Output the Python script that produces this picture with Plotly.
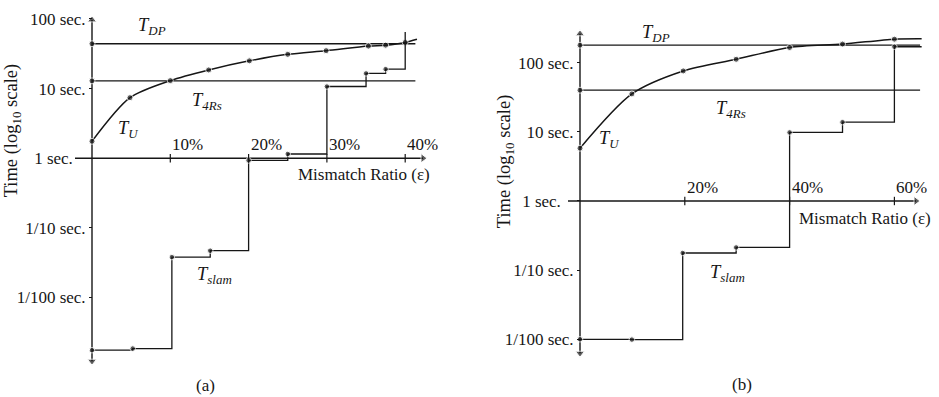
import plotly.graph_objects as go

# ---------------- data ----------------
# panel (a)
a_tu_x = [0, 4.85, 10, 14.9, 20.1, 25, 29.9, 35.3, 37.5, 40, 41.5]
a_tu_y = [1.75, 7.4, 13, 18.5, 25, 31, 35, 40.7, 42, 46, 51]
a_dp = 44
a_4rs = 12.9
a_line_end = 41.3
a_slam_x = [0, 5.2, 10.2, 15.1, 20, 25, 30, 35, 37.5, 40]
a_slam_y = [0.00175, 0.00185, 0.038, 0.047, 0.93, 1.15, 10.7, 16.5, 19, 65]
a_xticks = [10, 20, 30, 40]
a_xlabels = ["10%", "20%", "30%", "40%"]

# panel (b)
b_tu_x = [0, 9.9, 19.7, 29.8, 40, 50.1, 60, 65.2]
b_tu_y = [5.8, 35.4, 76, 112, 166, 186, 219, 222]
b_dp = 179
b_4rs = 40
b_line_end = 64.9
b_slam_x = [0, 9.9, 19.6, 29.8, 40, 50.1, 60, 65.2]
b_slam_y = [0.01, 0.0099, 0.177, 0.213, 9.8, 13.8, 170, 170]
b_xticks = [20, 40, 60]
b_xlabels = ["20%", "40%", "60%"]

ytick_vals = [0.01, 0.1, 1, 10, 100]
ytick_text = ["1/100 sec.", "1/10 sec.", "1 sec.&nbsp;&nbsp;&nbsp;", "10 sec.", "100 sec."]

W, H = 939, 397
INK = "#161616"
FONT = "Liberation Serif"
FS = 17

fig = go.Figure()

# ---------------- geometry (pixels in the 939x397 page) ----------------
A = dict(x0px=92, pp=7.83, y1px=157, pd=70, left=70, right=430,
         ytop=14, ybot=365, xstart=75, xend=427)
B = dict(x0px=580, pp=5.24, y1px=200, pd=69.5, left=558, right=925,
         ytop=28, ybot=357, xstart=568, xend=920)
top_px, bot_px = 10, 370


def xdata(g, px):
    return (px - g["x0px"]) / g["pp"]


def ydata(g, py):
    return 10 ** ((g["y1px"] - py) / g["pd"])


def add_panel(g, xr, yr, tu_x, tu_y, dp, r4, lend, sl_x, sl_y, xt):
    common = dict(xaxis=xr, yaxis=yr, showlegend=False, hoverinfo="skip")
    # axis lines with arrow heads
    fig.add_trace(go.Scatter(x=[0, 0, 0], y=[ydata(g, g["ybot"] - 4), 1, ydata(g, g["ytop"] + 4)],
                             mode="lines+markers", line=dict(color=INK, width=1.4),
                             marker=dict(symbol=["triangle-down", "circle", "triangle-up"],
                                         size=[8, 0, 8], color=INK),
                             cliponaxis=False, **common))
    fig.add_trace(go.Scatter(x=[xdata(g, g["xstart"]), xdata(g, g["xend"] - 4)], y=[1, 1],
                             mode="lines+markers", line=dict(color=INK, width=1.4),
                             marker=dict(symbol=["circle", "triangle-right"], size=[0, 8], color=INK),
                             cliponaxis=False, **common))
    # horizontal reference lines with dot at left end
    for val in (dp, r4):
        fig.add_trace(go.Scatter(x=[0, lend], y=[val, val], mode="lines+markers",
                                 line=dict(color=INK, width=1.3),
                                 marker=dict(size=[6, 0], color=INK),
                                 cliponaxis=False, **common))
    # T_U curve
    sizes = [6] * (len(tu_x) - 1) + [0]
    fig.add_trace(go.Scatter(x=tu_x, y=tu_y, mode="lines+markers",
                             line=dict(color=INK, width=1.5, shape="spline", smoothing=0.8),
                             marker=dict(size=sizes, color=INK),
                             cliponaxis=False, **common))
    # T_slam step
    sizes = [5.5] * (len(sl_x) - 1) + [0]
    fig.add_trace(go.Scatter(x=sl_x, y=sl_y, mode="lines+markers",
                             line=dict(color=INK, width=1.3, shape="hv"),
                             marker=dict(size=sizes, color=INK),
                             cliponaxis=False, **common))
    # x tick marks on the x axis line (at 1 sec.)
    fig.add_trace(go.Scatter(x=xt, y=[1] * len(xt), mode="markers",
                             marker=dict(symbol="line-ns", size=6, color=INK,
                                         line=dict(width=1.2, color=INK)),
                             cliponaxis=False, **common))


add_panel(A, "x", "y", a_tu_x, a_tu_y, a_dp, a_4rs, a_line_end, a_slam_x, a_slam_y, a_xticks)
add_panel(B, "x2", "y2", b_tu_x, b_tu_y, b_dp, b_4rs, b_line_end, b_slam_x, b_slam_y, b_xticks)

yaxis_common = dict(type="log", showgrid=False, zeroline=False, showline=False,
                    tickvals=ytick_vals, ticktext=ytick_text, ticks="outside",
                    ticklen=3, tickwidth=1.2, tickcolor=INK, anchor="free",
                    tickfont=dict(family=FONT, size=FS, color=INK))


def xaxis_of(g):
    return dict(domain=[g["left"] / W, g["right"] / W],
                range=[xdata(g, g["left"]), xdata(g, g["right"])], visible=False)


def yaxis_of(g):
    return dict(domain=[1 - bot_px / H, 1 - top_px / H],
                range=[-(bot_px - g["y1px"]) / g["pd"], (g["y1px"] - top_px) / g["pd"]],
                position=g["x0px"] / W, **yaxis_common)


fig.update_layout(
    width=W, height=H, margin=dict(l=0, r=0, t=0, b=0),
    paper_bgcolor="white", plot_bgcolor="white",
    xaxis=xaxis_of(A), xaxis2=xaxis_of(B),
    yaxis=yaxis_of(A), yaxis2=yaxis_of(B),
)

ann = []


def label(xr, yr, x, ly, text, xanchor="center", yanchor="middle", yshift=0, size=FS):
    ann.append(dict(xref=xr, yref=yr, x=x, y=ly, text=text, showarrow=False,
                    xanchor=xanchor, yanchor=yanchor, yshift=yshift,
                    font=dict(family=FONT, size=size, color=INK)))


# series labels (y in log10 units, as plotly annotations need on log axes)
LS = 18.5
label("x", "y", 7.7, 1.89, "<i>T<sub>DP</sub></i>", size=LS)
label("x", "y", 14.7, 0.81, "<i>T<sub>4Rs</sub></i>", size=LS)
label("x", "y", 4.6, 0.41, "<i>T<sub>U</sub></i>", size=LS)
label("x", "y", 15.7, -1.69, "<i>T<sub>slam</sub></i>", size=LS)
label("x2", "y2", 14.5, 2.42, "<i>T<sub>DP</sub></i>", size=LS)
label("x2", "y2", 28.8, 1.32, "<i>T<sub>4Rs</sub></i>", size=LS)
label("x2", "y2", 5.7, 0.89, "<i>T<sub>U</sub></i>", size=LS)
label("x2", "y2", 28.2, -1.05, "<i>T<sub>slam</sub></i>", size=LS)

# x tick labels
for v, t in zip(a_xticks, a_xlabels):
    label("x", "y", v, 0, t, xanchor="left", yanchor="bottom", yshift=2)
for v, t in zip(b_xticks, b_xlabels):
    label("x2", "y2", v, 0, t, xanchor="left", yanchor="bottom", yshift=2)

# x axis titles
label("x", "y", 34.8, -0.23, "Mismatch Ratio (ε)")
label("x2", "y2", 54.4, -0.26, "Mismatch Ratio (ε)")

# y axis titles and panel captions (paper coords)
for px, py, txt in [(12, 129, "Time (log<sub>10</sub> scale)"),
                    (505, 160, "Time (log<sub>10</sub> scale)")]:
    ann.append(dict(xref="paper", yref="paper", x=px / W, y=1 - py / H, text=txt,
                    textangle=-90, showarrow=False, xanchor="center", yanchor="middle",
                    font=dict(family=FONT, size=18.5, color=INK)))
for px, py, txt in [(205, 385, "(a)"), (742, 384, "(b)")]:
    ann.append(dict(xref="paper", yref="paper", x=px / W, y=1 - py / H, text=txt,
                    showarrow=False, xanchor="center", yanchor="middle",
                    font=dict(family=FONT, size=FS, color=INK)))

fig.update_layout(annotations=ann)
fig.write_html("out.html", config={"displayModeBar": False},
               post_script="document.body.style.margin='0px';")
